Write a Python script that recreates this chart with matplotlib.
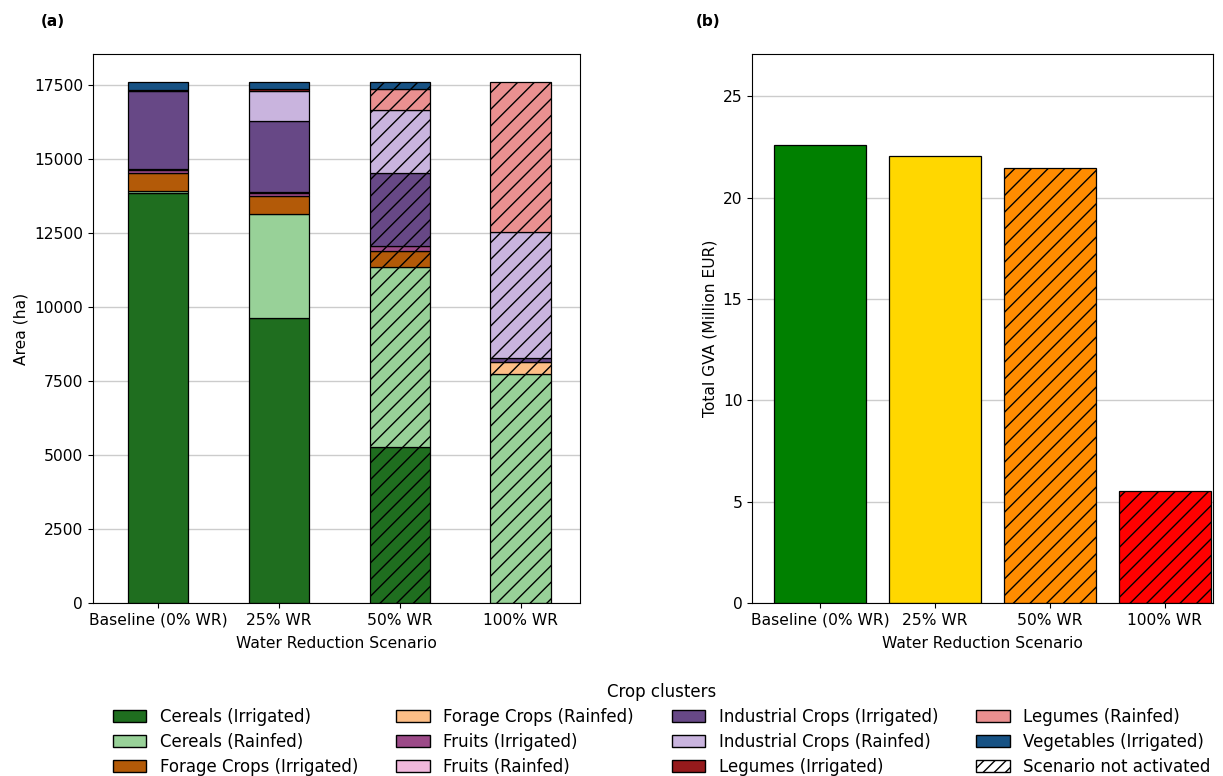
import matplotlib.pyplot as plt
import numpy as np
from matplotlib.patches import Patch

plt.rcParams['font.family'] = ['DejaVu Sans']

scenarios = ['Baseline (0% WR)', '25% WR', '50% WR', '100% WR']
activated = [True, True, False, False]

clusters = ['Cereals (Irrigated)', 'Cereals (Rainfed)', 'Forage Crops (Irrigated)',
            'Forage Crops (Rainfed)', 'Fruits (Irrigated)', 'Fruits (Rainfed)',
            'Industrial Crops (Irrigated)', 'Industrial Crops (Rainfed)',
            'Legumes (Irrigated)', 'Legumes (Rainfed)', 'Vegetables (Irrigated)']
colors = ['#1f6e1f', '#98d198', '#b35a08', '#fdbe86', '#9c4a88', '#f1b8dc',
          '#674886', '#c9b4de', '#951a1c', '#ea9090', '#175284']

# area per cluster (ha), one list per scenario
area = {
    'Baseline (0% WR)': [13850, 80, 600, 0, 100, 50, 2620, 0, 30, 0, 270],
    '25% WR':           [9620, 3545, 585, 0, 100, 35, 2410, 1000, 70, 0, 240],
    '50% WR':           [5280, 6080, 530, 0, 170, 0, 2460, 2140, 0, 700, 250],
    '100% WR':          [0, 7730, 0, 420, 0, 0, 130, 4260, 0, 5070, 0],
}

gva = [22.58, 22.08, 21.49, 5.53]
gva_colors = ['green', 'gold', 'darkorange', 'red']

fig = plt.figure(figsize=(12.23, 7.76), dpi=100)
ax1 = fig.add_axes([0.076, 0.223, 0.398, 0.7075])
ax2 = fig.add_axes([0.615, 0.223, 0.377, 0.7075])

x = np.arange(len(scenarios))
bottom = np.zeros(len(scenarios))
for i, (name, col) in enumerate(zip(clusters, colors)):
    vals = np.array([area[s][i] for s in scenarios], dtype=float)
    for j in range(len(scenarios)):
        if vals[j] <= 0:
            continue
        ax1.bar(x[j], vals[j], 0.5, bottom=bottom[j], color=col,
                edgecolor='black', linewidth=0.9,
                hatch=None if activated[j] else '//')
    bottom += vals

total = bottom.max()
ax1.set_ylim(0, total * 1.054)
ax1.set_xlim(-0.54, 3.49)
ax1.set_xticks(x)
ax1.set_xticklabels(scenarios, fontsize=11.2)
ax1.tick_params(axis='y', labelsize=11.2)
ax1.set_ylabel('Area (ha)', fontsize=11.2)
ax1.set_xlabel('Water Reduction Scenario', fontsize=11.2, labelpad=6)
ax1.yaxis.grid(True, color='#cccccc', linewidth=1)
ax1.set_axisbelow(True)

for j in range(len(scenarios)):
    ax2.bar(x[j], gva[j], 0.8, color=gva_colors[j], edgecolor='black', linewidth=0.9,
            hatch=None if activated[j] else '//')
ax2.set_ylim(0, max(gva) * 1.2)
ax2.set_xlim(-0.59, 3.42)
ax2.set_xticks(x)
ax2.set_xticklabels(scenarios, fontsize=11.2)
ax2.tick_params(axis='y', labelsize=11.2)
ax2.set_ylabel('Total GVA (Million EUR)', fontsize=11.2)
ax2.set_xlabel('Water Reduction Scenario', fontsize=11.2, labelpad=6)
ax2.yaxis.grid(True, color='#cccccc', linewidth=1)
ax2.set_axisbelow(True)

fig.text(0.033, 0.966, '(a)', fontsize=11, fontweight='bold')
fig.text(0.569, 0.966, '(b)', fontsize=11, fontweight='bold')

handles = [Patch(facecolor=c, edgecolor='black', label=n) for n, c in zip(clusters, colors)]
handles.append(Patch(facecolor='white', edgecolor='black', hatch='///',
                     label='Scenario not activated'))
fig.legend(handles=handles, loc='lower center', bbox_to_anchor=(0.541, -0.019),
           ncol=4, frameon=False, fontsize=12, title='Crop clusters',
           title_fontsize=12, columnspacing=2.3, handlelength=2.0,
           labelspacing=0.42)

fig.savefig('out.png', dpi=100)
